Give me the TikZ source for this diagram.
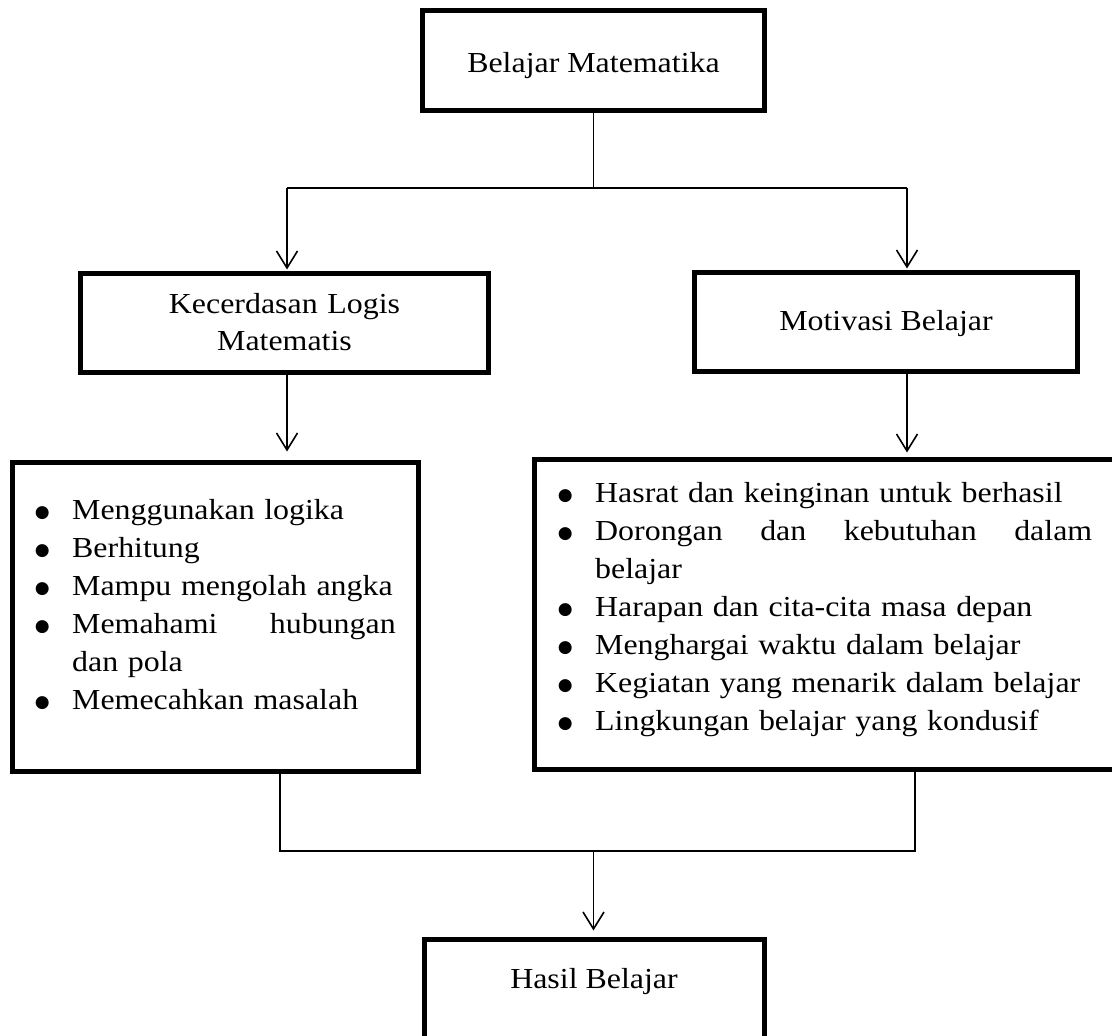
\documentclass[tikz,border=0pt]{standalone}
\usepackage{fontspec}
\setmainfont{Liberation Serif}[FakeStretch=1.1]
\newfontfamily\dejavu{DejaVu Sans}
\usetikzlibrary{arrows.meta}
\newcommand\bul{\leavevmode\llap{\raisebox{2pt}{\dejavu\fontsize{17}{17}\selectfont ●}\hspace{22.5pt}}}
\tikzset{
  box/.style={draw=black, line width=5pt, rectangle, inner sep=0pt},
  conn/.style={draw=black, line width=1.6pt},
  arr/.style={conn, -{Straight Barb[length=17pt,width=21pt]}},
  lbl/.style={inner sep=0pt, font=\fontsize{29}{37}\selectfont},
  listtxt/.style={inner sep=0pt, anchor=base west, font=\fontsize{29}{38}\selectfont}
}
\begin{document}
\begin{tikzpicture}[x=1pt,y=-1pt]
\useasboundingbox (0,0) rectangle (1112,1036);
\fill[white] (0,0) rectangle (1112,1036);
\clip (0,0) rectangle (1112,1036);

% boxes
\node[box, minimum width=342pt, minimum height=99.5pt] (T) at (593.5,60.25) {};
\node[box, minimum width=408pt, minimum height=99pt] (K) at (284.5,322.5) {};
\node[box, minimum width=383.5pt, minimum height=99.5pt] (M) at (885.75,321.75) {};
\node[box, minimum width=406.5pt, minimum height=309.5pt] (L) at (215.25,616.75) {};
\node[box, minimum width=592pt, minimum height=310.5pt] (R) at (830.5,614.25) {};
\node[box, minimum width=340pt, minimum height=103pt] (H) at (594,990.5) {};

% texts
\node[lbl, anchor=base] (Tt) at (593.5,72) {Belajar Matematika};
\node[lbl, anchor=base, text width=400pt, align=center] (Kt) at (284.5,313) {Kecerdasan Logis\\Matematis};
\node[lbl, anchor=base] (Mt) at (886,330) {Motivasi Belajar};
\node[lbl, anchor=base] (Ht) at (594,988) {Hasil Belajar};

\node[listtxt, text width=323.5pt] (Lt) at (72,519) {%
\bul Menggunakan logika\\
\bul Berhitung\\
\bul Mampu mengolah angka\\
\bul Memahami\hfill hubungan\\
dan pola\\
\bul Memecahkan masalah};

\node[listtxt, text width=497pt] (Rt) at (595,502) {%
\bul Hasrat dan keinginan untuk berhasil\\
\bul Dorongan\hfill dan\hfill kebutuhan\hfill dalam\\
belajar\\
\bul Harapan dan cita-cita masa depan\\
\bul Menghargai waktu dalam belajar\\
\bul Kegiatan yang menarik dalam belajar\\
\bul Lingkungan belajar yang kondusif};

% junction coordinates
\coordinate (jt) at (593.5,188);
\coordinate (jl) at (287,188);
\coordinate (jr) at (907,188);
\coordinate (bl) at (280,851);
\coordinate (br) at (915,851);
\coordinate (bc) at (593.5,851);

% connectors
\draw[conn] (T.south) -- (jt);
\draw[conn] (jl) -- (jr);
\draw[arr, shorten >=1pt] (jl) -- (jl |- K.north);
\draw[arr, shorten >=1pt] (jr) -- (jr |- M.north);
\draw[arr, shorten >=8pt] (K.south -| jl) -- (jl |- L.north);
\draw[arr, shorten >=4pt] (M.south -| jr) -- (jr |- R.north);
\draw[conn] (L.south -| bl) -- (bl) -- (br) -- (R.south -| br);
\draw[arr, shorten >=6pt] (bc) -- (bc |- H.north);
\end{tikzpicture}
\end{document}
